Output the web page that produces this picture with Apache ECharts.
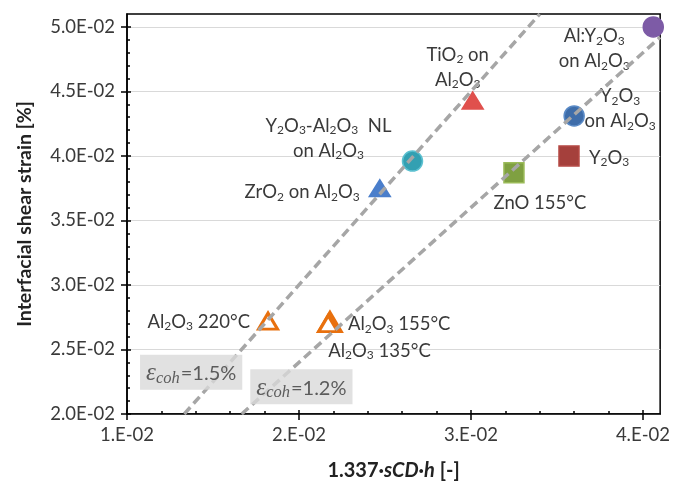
<!DOCTYPE html>
<html><head><meta charset="utf-8">
<script src="https://cdn.jsdelivr.net/npm/echarts@6/dist/echarts.min.js"></script>
<style>html,body{margin:0;padding:0;background:#fff}#c{width:673px;height:486px}</style>
</head><body><div id="c"></div>
<script>
// ---------- data ----------
const pointNames = [
  'Al:Y_2O_3\non Al_2O_3',
  'TiO_2 on\nAl_2O_3',
  'Y_2O_3\non Al_2O_3',
  'Y_2O_3',
  'ZnO 155°C',
  'Y_2O_3-Al_2O_3  NL\non Al_2O_3',
  'ZrO_2 on Al_2O_3',
  'Al_2O_3 220°C',
  'Al_2O_3 155°C',
  'Al_2O_3 135°C'
];
const xValues = [0.0406, 0.0301, 0.0360, 0.0357, 0.0325, 0.0266, 0.0247, 0.0182, 0.0218, 0.0217];
const yValues = [0.0500, 0.0443, 0.0431, 0.0400, 0.0387, 0.0396, 0.0375, 0.0272, 0.0271, 0.0270];
const xTicks = [0.01, 0.02, 0.03, 0.04];
const yTicks = [0.020, 0.025, 0.030, 0.035, 0.040, 0.045, 0.050];
const guideStrains = ['1.5%', '1.2%'];
const guideX = [[0.01333, 0.034], [0.01667, 0.041]];
const guideY = [[0.020, 0.051], [0.020, 0.0492]];
const guideLabelX = [0.01373, 0.02014];
const guideLabelY = [0.02324, 0.02211];

// ---------- styles ----------
const FONT = 'Lato';
const TXT = '#3a3a3a';
const markStyles = [
  {symbol:'circle', size:20, color:'#7D5BA6', border:'#7D5BA6', align:'center', off:[-59,22]},
  {symbol:'triangle', size:[21,17], color:'#E0504D', border:'#E0504D', align:'center', off:[-15,-33]},
  {symbol:'circle', size:20, color:'#3E6DAA', border:'#5A8AC6', align:'center', off:[46,-7]},
  {symbol:'rect', size:20, color:'#A5403C', border:'#B54A45', align:'left', off:[20,2]},
  {symbol:'rect', size:20, color:'#7FA041', border:'#9BBB59', align:'center', off:[26,30]},
  {symbol:'circle', size:20, color:'#33A0B2', border:'#5BC0D0', align:'center', off:[-84,-23]},
  {symbol:'triangle', size:[21,17], color:'#4A7ECB', border:'#4A7ECB', align:'right', off:[-20,4]},
  {symbol:'triangle', size:[19,16], color:'#ffffff', border:'#E8700E', bw:3, align:'right', off:[-18,1]},
  {symbol:'triangle', size:[20,17], color:'#ffffff', border:'#E8700E', bw:4.5, align:'left', off:[18,2]},
  {symbol:'triangle', size:[19,16], color:'#ffffff', border:'#E8700E', bw:3, align:'left', off:[0,27]}
];

function toRich(s){ return s.replace(/_(\d)/g, '{s|$1}'); }
const subStyle = {fontSize: 12, lineHeight: 14, padding: [9,0,0,0], fontFamily: FONT, color: TXT};

const series = [];
pointNames.forEach((name, i) => {
  const st = markStyles[i];
  series.push({
    type: 'scatter', z: 2,
    symbol: st.symbol, symbolSize: st.size,
    itemStyle: {color: st.color, borderColor: st.border, borderWidth: st.bw || 1.5, opacity: 1},
    label: {
      show: true, position: 'inside', offset: st.off,
      align: st.align, verticalAlign: 'middle',
      formatter: toRich(name),
      fontFamily: FONT, fontSize: 18.5, lineHeight: 25, color: TXT,
      rich: {s: subStyle}
    },
    emphasis: {disabled: true},
    data: [[xValues[i], yValues[i]]]
  });
});

guideStrains.forEach((g, i) => {
  series.push({
    type: 'line', z: 5, symbol: 'none', silent: true,
    lineStyle: {color: '#A6A6A6', width: 3.5, type: [9, 5]},
    data: [[guideX[i][0], guideY[i][0]], [guideX[i][1], guideY[i][1]]]
  });
  series.push({
    type: 'scatter', z: 6, symbolSize: 0, silent: true,
    label: {
      show: true, position: 'inside', align: 'center', verticalAlign: 'middle',
      backgroundColor: '#D9D9D9', padding: [6, 6, 3, 6],
      formatter: '{e|ε}{c|coh}{n|=' + g + '}',
      rich: {
        e: {fontFamily: 'Liberation Serif', fontStyle: 'italic', fontSize: 25, color: TXT, lineHeight: 26},
        c: {fontFamily: 'Liberation Serif', fontStyle: 'italic', fontSize: 16.5, color: TXT, lineHeight: 17, padding: [9,1,0,0]},
        n: {fontFamily: FONT, fontSize: 20, color: TXT, lineHeight: 26}
      }
    },
    data: [[guideLabelX[i], guideLabelY[i]]]
  });
});

const xFmt = v => (v / 0.01).toFixed(0) + '.E-02';
const yFmt = v => (v / 0.01).toFixed(1) + 'E-02';

const option = {
  animation: false,
  backgroundColor: '#ffffff',
  grid: {left: 127, top: 14, width: 537, height: 400, show: true, borderColor: '#000', borderWidth: 1.5, backgroundColor: 'transparent'},
  xAxis: [{
    type: 'value', min: 0.01, max: 0.041, interval: 0.01, position: 'bottom',
    name: '{b|1.337·}{i|sCD·h}{b| [-]}', nameLocation: 'middle', nameGap: 47,
    nameTextStyle: {rich: {
      b: {fontFamily: FONT, fontWeight: 'bold', fontSize: 20, color: '#222'},
      i: {fontFamily: FONT, fontWeight: 'bold', fontStyle: 'italic', fontSize: 20, color: '#222'}
    }},
    axisLine: {lineStyle: {color: '#000', width: 1.5}},
    axisTick: {show: true, length: 6, lineStyle: {color: '#000', width: 1.5}, customValues: xTicks},
    axisLabel: {fontFamily: FONT, fontSize: 18.5, color: TXT, margin: 12, customValues: xTicks, formatter: xFmt},
    splitLine: {show: false}
  }, {
    type: 'value', min: 0.01, max: 0.041, interval: 0.01, position: 'bottom', offset: 0,
    axisLine: {show: false},
    axisTick: {show: true, inside: true, length: 4, lineStyle: {color: '#000', width: 1.5}, customValues: xTicks},
    minorTick: {show: true, splitNumber: 5, length: 3, lineStyle: {color: '#000', width: 1.5}},
    axisLabel: {show: false},
    splitLine: {show: false}
  }],
  yAxis: [{
    type: 'value', min: 0.02, max: 0.051, interval: 0.005, position: 'left',
    name: 'Interfacial shear strain [%]', nameLocation: 'middle', nameGap: 92,
    nameTextStyle: {fontFamily: FONT, fontWeight: 'bold', fontSize: 19.5, color: '#222'},
    axisLine: {lineStyle: {color: '#000', width: 1.5}},
    axisTick: {show: true, length: 6, lineStyle: {color: '#000', width: 1.5}, customValues: yTicks},
    axisLabel: {fontFamily: FONT, fontSize: 18.5, color: TXT, margin: 12, customValues: yTicks, formatter: yFmt},
    splitLine: {show: true, lineStyle: {color: '#D9D9D9', width: 1.2}}
  }, {
    type: 'value', min: 0.02, max: 0.051, interval: 0.005, position: 'left', offset: 0,
    axisLine: {show: false},
    axisTick: {show: true, inside: true, length: 4, lineStyle: {color: '#000', width: 1.5}, customValues: yTicks},
    minorTick: {show: true, splitNumber: 5, length: 3, lineStyle: {color: '#000', width: 1.5}},
    axisLabel: {show: false},
    splitLine: {show: false}
  }],
  series: series
};
const chart = echarts.init(document.getElementById('c'), null, {renderer: 'canvas'});
chart.setOption(option);
</script>
</body></html>
